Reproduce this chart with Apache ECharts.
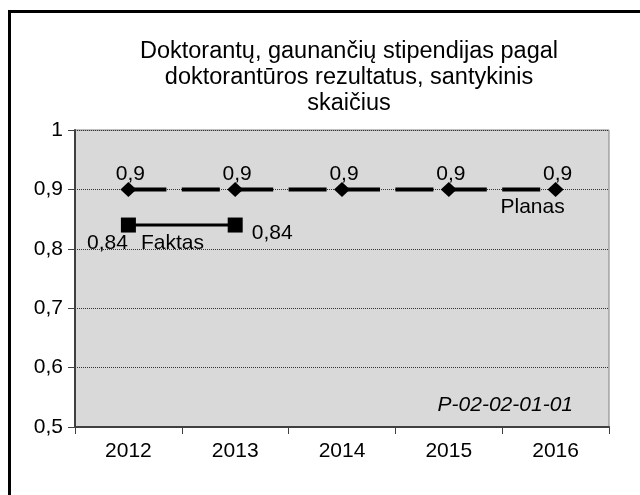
<!DOCTYPE html>
<html>
<head>
<meta charset="utf-8">
<script src="https://cdn.jsdelivr.net/npm/echarts@6/dist/echarts.min.js"></script>
<style>
  html, body { margin: 0; padding: 0; background: #fff; }
  #chart { width: 640px; height: 495px; }
</style>
</head>
<body>
<div id="chart"></div>
<script>
// metai ir reikšmės
const years = ['2012', '2013', '2014', '2015', '2016']
const planas = [0.9, 0.9, 0.9, 0.9, 0.9]
const faktas = [0.84, 0.84, null, null, null]
const yMin = 0.5
const yMax = 1
const yStep = 0.1

const font = 'Liberation Sans, Arial, sans-serif'
const fmt = v => String(+Number(v).toFixed(2)).replace('.', ',')

const chart = echarts.init(document.getElementById('chart'))

const option = {
  animation: false,
  backgroundColor: '#fff',
  textStyle: { fontFamily: font, color: '#000' },
  graphic: [
    {
      type: 'rect',
      silent: true,
      z: -10,
      shape: { x: 9.5, y: 11.5, width: 700, height: 600 },
      style: { fill: 'none', stroke: '#000', lineWidth: 3 },
    },
    {
      type: 'text',
      x: 349,
      y: 39,
      style: {
        text: 'Doktorantų, gaunančių stipendijas pagal\ndoktorantūros rezultatus, santykinis\nskaičius',
        font: '23.5px ' + font,
        fill: '#000',
        textAlign: 'center',
        textVerticalAlign: 'top',
        lineHeight: 26,
      },
    },
    {
      type: 'text',
      x: 573,
      y: 405,
      style: {
        text: 'P-02-02-01-01',
        font: 'italic 21px ' + font,
        fill: '#000',
        textAlign: 'right',
        textVerticalAlign: 'middle',
      },
    },
  ],
  grid: {
    left: 75,
    right: 31,
    top: 130,
    bottom: 68,
    show: true,
    backgroundColor: '#d9d9d9',
    borderColor: '#808080',
    borderWidth: 1,
    outerBoundsMode: 'none',
  },
  xAxis: {
    type: 'category',
    data: years,
    boundaryGap: true,
    axisLine: { lineStyle: { color: '#404040', width: 2 } },
    axisTick: { show: true, length: 7, lineStyle: { color: '#404040', width: 1 } },
    axisLabel: { fontSize: 21, color: '#000', margin: 14, fontFamily: font },
    splitLine: { show: false },
  },
  yAxis: {
    type: 'value',
    min: yMin,
    max: yMax,
    interval: yStep,
    axisLine: { show: true, lineStyle: { color: '#404040', width: 2 } },
    axisTick: { show: true, length: 7, lineStyle: { color: '#404040', width: 1 } },
    axisLabel: { fontSize: 21, color: '#000', margin: 12, fontFamily: font, formatter: fmt },
    splitLine: { show: true, lineStyle: { color: '#333', width: 1, type: [1, 1] } },
  },
  series: [
    {
      name: 'Planas',
      type: 'line',
      data: planas,
      symbol: 'diamond',
      symbolSize: [16, 15],
      itemStyle: { color: '#000' },
      lineStyle: { color: '#000', width: 4, type: [38, 15.4] },
      label: {
        show: true,
        position: 'inside',
        offset: [2, -15],
        fontSize: 21,
        color: '#000',
        formatter: p => fmt(p.value),
      },
      markPoint: {
        symbol: 'circle',
        symbolSize: 1,
        itemStyle: { color: 'rgba(0,0,0,0)' },
        label: { show: true, position: 'inside', offset: [-23, 18], fontSize: 21, color: '#000', formatter: 'Planas' },
        data: [{ coord: [4, planas[4]] }],
      },
    },
    {
      name: 'Faktas',
      type: 'line',
      data: faktas.map((v, i) => ({
        value: v,
        label: { offset: i === 0 ? [-21, 18] : [37, 8] },
      })),
      symbol: 'rect',
      symbolSize: 15,
      itemStyle: { color: '#000' },
      lineStyle: { color: '#000', width: 3 },
      label: {
        show: true,
        position: 'inside',
        fontSize: 21,
        color: '#000',
        formatter: p => fmt(p.value),
      },
      markPoint: {
        symbol: 'circle',
        symbolSize: 1,
        itemStyle: { color: 'rgba(0,0,0,0)' },
        label: { show: true, position: 'inside', offset: [44, 18], fontSize: 21, color: '#000', formatter: 'Faktas' },
        data: [{ coord: [0, faktas[0]] }],
      },
    },
  ],
}

chart.setOption(option)
</script>
</body>
</html>
